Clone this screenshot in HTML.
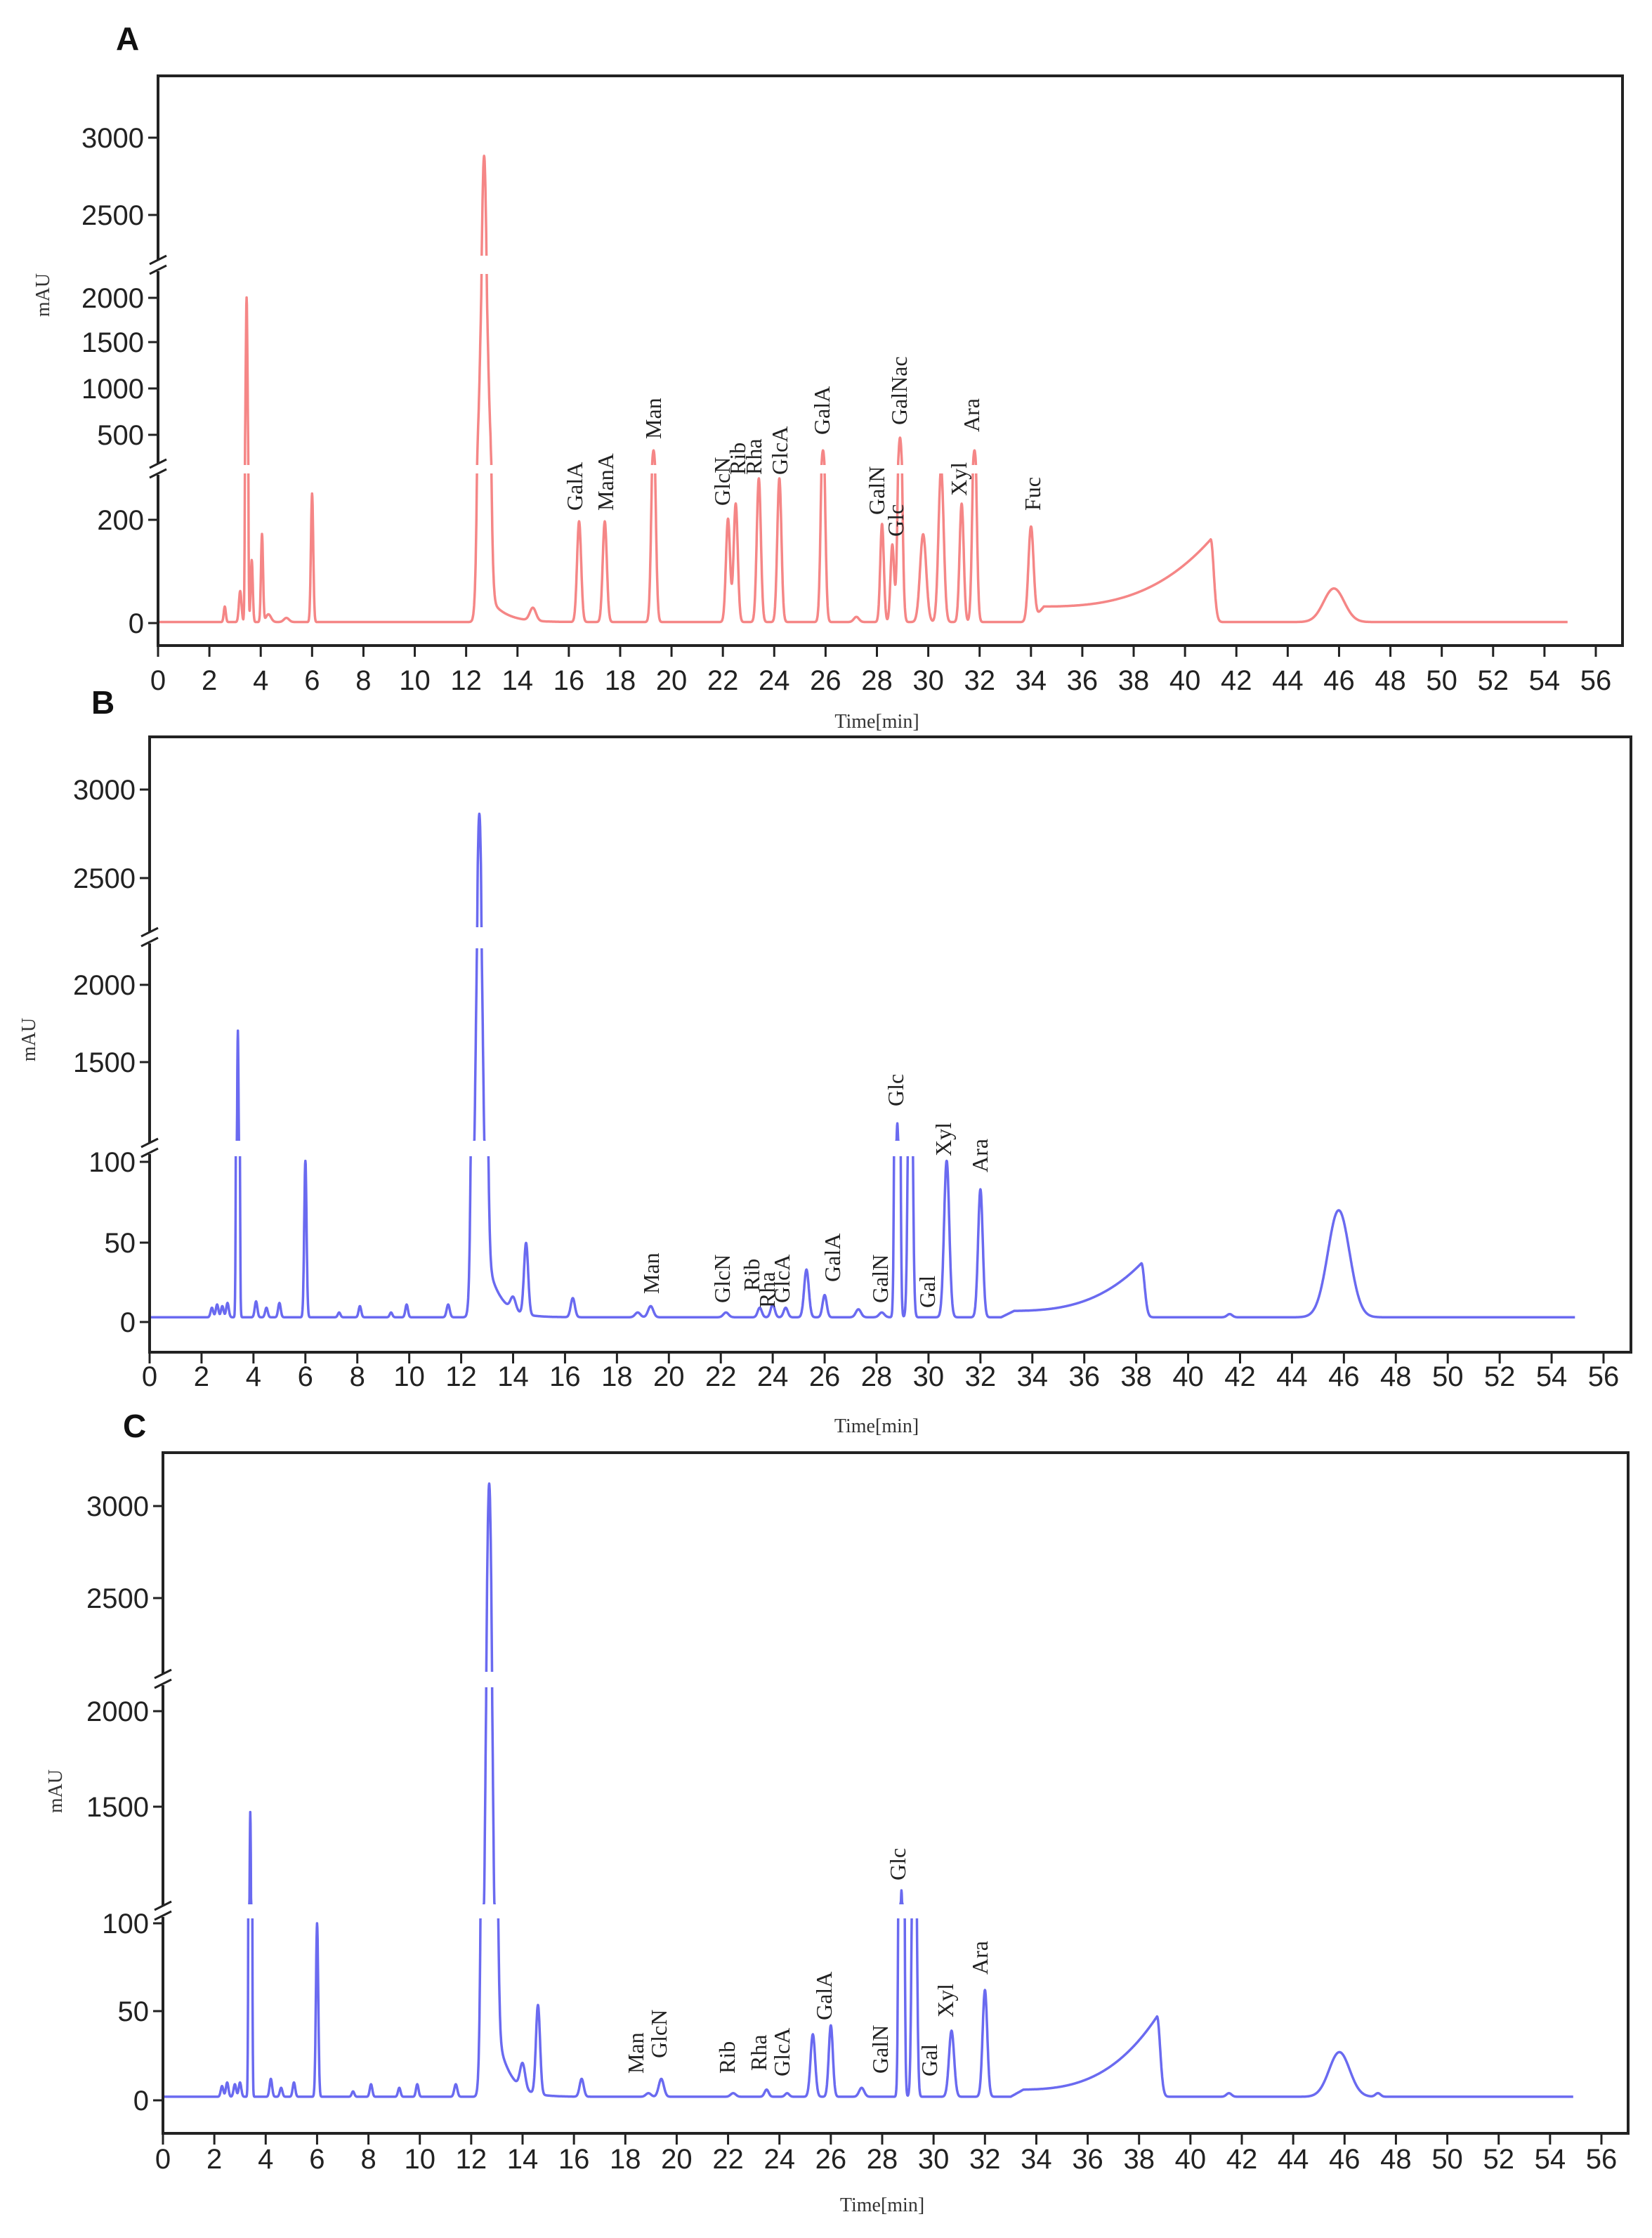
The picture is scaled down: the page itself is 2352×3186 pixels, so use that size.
<!DOCTYPE html>
<html><head><meta charset="utf-8"><style>
html,body{margin:0;padding:0;background:#fff}
svg{display:block}
.tk{font-family:"Liberation Sans",sans-serif;font-size:40px;fill:#222}
.lb{font-family:"Liberation Serif",serif;font-size:32px;fill:#222}
.pl{font-family:"Liberation Sans",sans-serif;font-size:46px;font-weight:bold;fill:#111}
.ax{font-family:"Liberation Serif",serif;font-size:28px;fill:#333}
</style></head><body>
<svg id="s" width="2352" height="3186" xmlns="http://www.w3.org/2000/svg"></svg>
<script>
const S=document.getElementById('s');let out='';
function G(t,t0,h,s){return h*Math.exp(-0.5*((t-t0)/s)**2);}
function ramp(t,t1,t2,v1,v2){if(t<t1)return 0;if(t<=t2)return v1*Math.min(1,(t-t1)/0.5)+(v2-v1)*Math.pow((t-t1)/(t2-t1),3);return v2*Math.exp(-0.5*((t-t2)/0.12)**2);}
function tail(t,t0,h,tau){if(t<t0)return h*Math.exp(-0.5*((t-t0)/0.1)**2);return h*Math.exp(-(t-t0)/tau);}
const P={
A:{L:225,R:2310,T:108,B:919,x0:225,x56:2272,col:'#f58686',
knots:[[0,887],[200,740],[300,668],[310,662],[500,619],[2000,424],[2100,398],[2200,372],[2500,306],[3000,196],[4000,-24]],
bands:[[662,674],[364,390]],brk:[668,378],ticks:[[0,887],[200,740],[500,619],[1000,553],[1500,487],[2000,424],[2500,306],[3000,196]],
f:t=>G(t,2.6,30,.04)+G(t,3.2,60,.05)+G(t,3.45,2000,.035)+G(t,3.65,120,.04)+G(t,4.05,170,.04)+G(t,4.3,15,.1)+G(t,5,8,.1)+G(t,6.0,250,.045)+G(t,12.7,2880,.13)+tail(t,13,40,.6)+G(t,14.6,25,.12)+G(t,16.4,195,.08)+G(t,17.4,195,.08)+G(t,19.3,400,.08)+G(t,22.2,200,.08)+G(t,22.5,230,.08)+G(t,23.4,280,.08)+G(t,24.2,280,.08)+G(t,25.9,400,.08)+G(t,27.2,10,.1)+G(t,28.2,190,.07)+G(t,28.6,150,.07)+G(t,28.9,480,.08)+G(t,29.8,170,.12)+G(t,30.5,300,.1)+G(t,31.3,230,.08)+G(t,31.8,400,.08)+G(t,34.0,185,.1)+ramp(t,34,41,30,160)+G(t,45.8,65,.4)+2,
labels:[['GalA',818,727],['ManA',862,727],['Man',930,625],['GlcN',1028,720],['Rib',1050,676],['Rha',1073,676],['GlcA',1110,676],['GalA',1170,619],['GalN',1248,733],['Glc',1275,764],['GalNac',1280,605],['Xyl',1365,706],['Ara',1383,615],['Fuc',1470,727]],
letter:['A',165,55],mau:[60,420],tl:[967+15,1028]},
B:{L:213,R:2322,T:1049,B:1925,x0:213,x56:2283,col:'#6a6af0',
knots:[[0,1882],[50,1769],[100,1654],[110,1640],[1000,1622],[1500,1512],[2000,1402],[2200,1358],[2350,1320],[2500,1250],[3000,1124],[4000,872]],
bands:[[1624,1646],[1320,1350]],brk:[1635,1335],ticks:[[0,1882],[50,1769],[100,1654],[1500,1512],[2000,1402],[2500,1250],[3000,1124]],
f:t=>3+G(t,2.4,6,.05)+G(t,2.6,8,.05)+G(t,2.8,7,.05)+G(t,3.0,9,.05)+G(t,3.4,1700,.035)+G(t,4.1,10,.05)+G(t,4.5,6,.05)+G(t,5.0,9,.05)+G(t,6.0,98,.045)+G(t,7.3,3,.05)+G(t,8.1,7,.05)+G(t,9.3,3,.05)+G(t,9.9,8,.05)+G(t,11.5,8,.06)+G(t,12.7,2860,.13)+tail(t,13.1,30,.5)+G(t,14.0,8,.1)+G(t,14.5,45,.08)+G(t,16.3,12,.08)+G(t,18.8,3,.1)+G(t,19.3,7,.1)+G(t,22.2,3,.1)+G(t,23.5,6,.08)+G(t,24.0,8,.08)+G(t,24.5,6,.08)+G(t,25.3,30,.09)+G(t,26.0,14,.08)+G(t,27.3,5,.1)+G(t,28.2,3,.1)+G(t,28.8,1100,.06)+G(t,29.3,300,.07)+G(t,30.7,98,.1)+G(t,32.0,80,.09)+ramp(t,32.8,38.2,4,34)+G(t,41.6,2,.1)+G(t,45.8,67,.42),
labels:[['Man',927,1842],['GlcN',1028,1855],['Rib',1070,1838],['Rha',1092,1862],['GlcA',1113,1855],['GalA',1185,1825],['GalN',1253,1855],['Gal',1320,1862],['Glc',1275,1575],['Xyl',1343,1646],['Ara',1395,1669]],
letter:['B',130,1000],mau:[40,1480],tl:[1973,2031]},
C:{L:232,R:2318,T:2068,B:3037,x0:232,x56:2280,col:'#6a6af0',
knots:[[0,2990],[50,2863],[100,2738],[110,2724],[1000,2708],[1500,2572],[2000,2436],[2150,2400],[2180,2378],[2500,2275],[3000,2144],[4000,1882]],
bands:[[2711,2731],[2380,2402]],brk:[2721,2391],ticks:[[0,2990],[50,2863],[100,2738],[1500,2572],[2000,2436],[2500,2275],[3000,2144]],
f:t=>2+G(t,2.3,6,.05)+G(t,2.5,8,.05)+G(t,2.8,7,.05)+G(t,3.0,8,.05)+G(t,3.4,1470,.035)+G(t,4.2,10,.05)+G(t,4.6,5,.05)+G(t,5.1,8,.05)+G(t,6.0,98,.045)+G(t,7.4,3,.05)+G(t,8.1,7,.05)+G(t,9.2,5,.05)+G(t,9.9,7,.05)+G(t,11.4,7,.06)+G(t,12.7,3120,.13)+tail(t,13.1,30,.5)+G(t,14.0,14,.1)+G(t,14.6,50,.08)+G(t,16.3,10,.08)+G(t,18.9,2,.1)+G(t,19.4,10,.1)+G(t,22.2,2,.1)+G(t,23.5,4,.08)+G(t,24.3,2,.08)+G(t,25.3,35,.09)+G(t,26.0,40,.08)+G(t,27.2,5,.1)+G(t,28.75,1060,.06)+G(t,29.25,300,.07)+G(t,30.7,37,.1)+G(t,32.0,60,.09)+ramp(t,33,38.7,4,45)+G(t,41.5,2,.1)+G(t,45.8,25,.4)+G(t,47.3,2,.1),
labels:[['Man',905,2952],['GlcN',938,2930],['Rib',1035,2952],['Rha',1080,2948],['GlcA',1113,2956],['GalA',1173,2876],['GalN',1253,2952],['Gal',1323,2956],['Glc',1278,2677],['Xyl',1346,2872],['Ara',1395,2811]],
letter:['C',175,2030],mau:[78,2550],tl:[3087,3140]}
};
function Y(p,v){const k=p.knots;if(v<=k[0][0])return k[0][1]+(k[0][0]-v)*(k[1][1]-k[0][1])/(k[1][0]-k[0][0])*-1;
for(let i=1;i<k.length;i++){if(v<=k[i][0]){const a=k[i-1],b=k[i];return a[1]+(v-a[0])*(b[1]-a[1])/(b[0]-a[0]);}}return k[k.length-1][1];}
for(const n of ['A','B','C']){const p=P[n];const sx=(p.x56-p.x0)/56;
 let pts=[];for(let t=0;t<=54.9;t+=0.01){let y=Y(p,p.f(t));if(y<p.T)y=p.T;pts.push((p.x0+t*sx).toFixed(1)+','+y.toFixed(1));}
 out+=`<polyline points="${pts.join(' ')}" fill="none" stroke="${p.col}" stroke-width="3.5" stroke-linejoin="round"/>`;
 for(const b of p.bands)out+=`<rect x="${p.L+2}" y="${b[0]}" width="${p.R-p.L-4}" height="${b[1]-b[0]}" fill="#fff"/>`;
 out+=`<rect x="${p.L}" y="${p.T}" width="${p.R-p.L}" height="${p.B-p.T}" fill="none" stroke="#222" stroke-width="4"/>`;
 for(const b of p.brk){out+=`<rect x="${p.L-3}" y="${b-8}" width="8" height="16" fill="#fff"/><line x1="${p.L-12}" y1="${b-2}" x2="${p.L+12}" y2="${b-14}" stroke="#222" stroke-width="3"/><line x1="${p.L-12}" y1="${b+12}" x2="${p.L+12}" y2="${b}" stroke="#222" stroke-width="3"/>`;}
 for(const tk of p.ticks){out+=`<line x1="${p.L-14}" y1="${tk[1]}" x2="${p.L}" y2="${tk[1]}" stroke="#222" stroke-width="3"/><text class="tk" x="${p.L-20}" y="${tk[1]+14}" text-anchor="end">${tk[0]}</text>`;}
 for(let m=0;m<=56;m+=2){const x=p.x0+m*sx;out+=`<line x1="${x}" y1="${p.B}" x2="${x}" y2="${p.B+16}" stroke="#222" stroke-width="3"/><text class="tk" x="${x}" y="${p.tl[0]}" text-anchor="middle">${m}</text>`;}
 out+=`<text class="ax" x="${(p.x0+p.x56)/2}" y="${p.tl[1]+8}" text-anchor="middle">Time[min]</text>`;
 out+=`<text class="ax" transform="translate(${p.mau[0]+10},${p.mau[1]}) rotate(-90)" text-anchor="middle">mAU</text>`;
 out+=`<text class="pl" x="${p.letter[1]}" y="${p.letter[2]+16}">${p.letter[0]}</text>`;
 for(const l of p.labels)out+=`<text class="lb" transform="translate(${l[1]+11},${l[2]}) rotate(-90)">${l[0]}</text>`;
}
S.innerHTML=out;
</script>
</body></html>
